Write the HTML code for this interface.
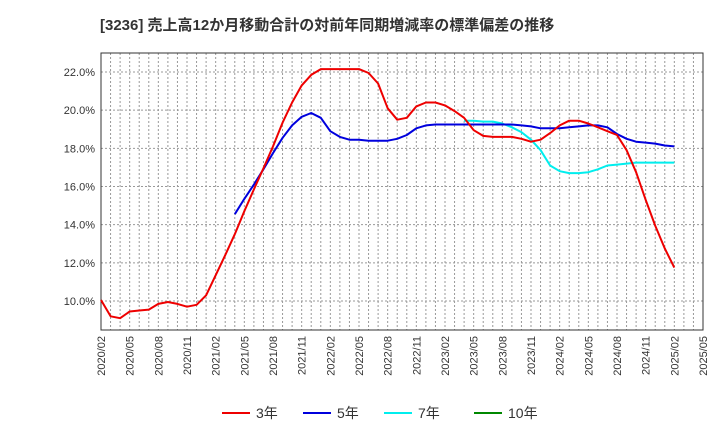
<!DOCTYPE html>
<html><head><meta charset="utf-8"><style>
body{margin:0;background:#fff;font-family:"Liberation Sans","Noto Sans CJK JP",sans-serif;}
svg text{font-family:"Liberation Sans","Noto Sans CJK JP",sans-serif;}
</style></head><body>
<svg id="chart" width="720" height="440" xmlns="http://www.w3.org/2000/svg">
<text x="100" y="30" font-size="15" font-weight="bold" fill="#333">[3236]  売上高12か月移動合計の対前年同期増減率の標準偏差の推移</text>
<g id="grid"></g><g id="axes"></g><g id="series"></g><g id="legend"></g>
</svg>
<script>
const startYear = 2020, startMonth = 2;
const yTicks = [10, 12, 14, 16, 18, 20, 22];
const s3 = [10.05,9.2,9.1,9.45,9.5,9.55,9.85,9.95,9.85,9.7,9.8,10.3,11.35,12.4,13.5,14.7,15.85,16.95,18.1,19.35,20.4,21.3,21.85,22.15,22.15,22.15,22.15,22.15,21.95,21.4,20.1,19.5,19.6,20.2,20.4,20.4,20.25,19.95,19.6,18.95,18.65,18.6,18.6,18.6,18.5,18.35,18.45,18.8,19.2,19.45,19.45,19.3,19.1,18.9,18.7,17.9,16.75,15.3,13.95,12.75,11.75];
const s5Start = 14;
const s5 = [14.55,15.35,16.1,16.9,17.75,18.55,19.2,19.65,19.85,19.6,18.9,18.6,18.45,18.45,18.4,18.4,18.4,18.5,18.7,19.05,19.2,19.25,19.25,19.25,19.25,19.25,19.25,19.25,19.25,19.25,19.2,19.15,19.05,19.05,19.05,19.1,19.15,19.2,19.2,19.1,18.75,18.5,18.35,18.3,18.25,18.15,18.1];
const s7Start = 38;
const s7 = [19.45,19.45,19.4,19.4,19.3,19.1,18.85,18.45,17.9,17.1,16.8,16.7,16.7,16.75,16.9,17.1,17.15,17.2,17.25,17.25,17.25,17.25,17.25];
const s10 = [];
const legendLabels = ["3年","5年","7年","10年"];
const colors = ["#ee0000","#0000dd","#00eeee","#008800"];

const NS="http://www.w3.org/2000/svg";
const L=101,R=703,T=53,B=330,nMonths=63;
const xs=i=>L+(R-L)*i/nMonths;
const ys=v=>72+(22-v)*(301-72)/12;
function mk(tag,attrs,parent){const e=document.createElementNS(NS,tag);for(const k in attrs)e.setAttribute(k,attrs[k]);parent.appendChild(e);return e;}
const grid=document.getElementById('grid'),axes=document.getElementById('axes'),ser=document.getElementById('series'),leg=document.getElementById('legend');
for(let i=1;i<nMonths;i++){const l=mk('line',{x1:xs(i),x2:xs(i),y1:T,y2:B,stroke:'#999','stroke-dasharray':'2,2','stroke-width':1},grid);

}
yTicks.forEach(v=>{const l=mk('line',{x1:L,x2:R,y1:ys(v),y2:ys(v),stroke:'#999','stroke-dasharray':'2,2','stroke-width':1},grid);


const t=mk('text',{x:L-6,y:ys(v)+4,'text-anchor':'end','font-size':11,fill:'#333'},axes);t.textContent=v.toFixed(1)+'%';

});
const fr=mk('rect',{x:L,y:T,width:R-L,height:B-T,fill:'none',stroke:'#333','stroke-width':1},axes);


for(let i=0;i<=nMonths;i+=3){const m=(startMonth-1+i)%12+1,y=startYear+Math.floor((startMonth-1+i)/12);
const t=mk('text',{x:0,y:0,'text-anchor':'end','font-size':11,fill:'#333',transform:`translate(${xs(i)+4},${B+6}) rotate(-90)`},axes);
t.textContent=y+'/'+String(m).padStart(2,'0');

}
function line(arr,start,color,name){if(!arr.length)return;const p=arr.map((v,i)=>xs(start+i).toFixed(1)+','+ys(v).toFixed(1)).join(' ');
const e=mk('polyline',{points:p,fill:'none',stroke:color,'stroke-width':2,'stroke-linejoin':'round'},ser);

}
line(s7,s7Start,colors[2],'series-7y');
line(s5,s5Start,colors[1],'series-5y');
line(s3,0,colors[0],'series-3y');
line(s10,0,colors[3],'series-10y');
const lx=[222,303,384,474];
legendLabels.forEach((lab,k)=>{const g=mk('g',{},leg);


mk('line',{x1:lx[k],x2:lx[k]+28,y1:413,y2:413,stroke:colors[k],'stroke-width':2},g);
const t=mk('text',{x:lx[k]+34,y:418,'font-size':14,fill:'#333'},g);t.textContent=lab;});
</script>
</body></html>
